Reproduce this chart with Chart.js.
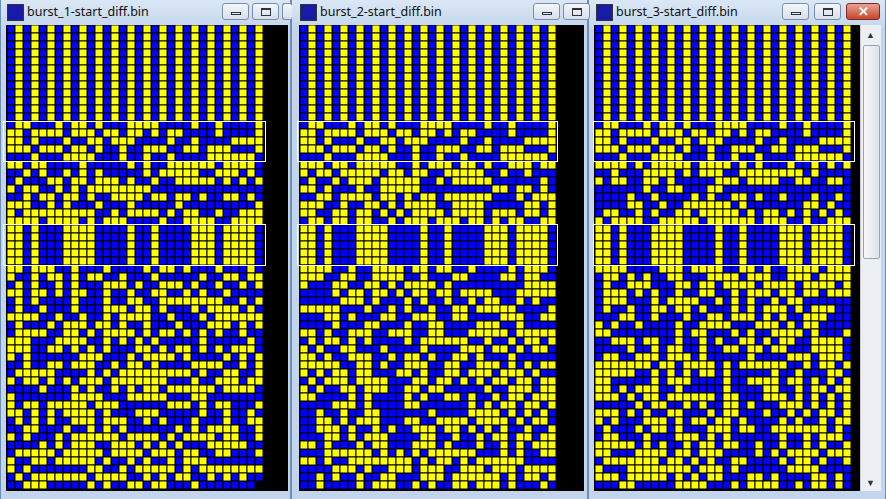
<!DOCTYPE html>
<html><head><meta charset="utf-8">
<script src="https://cdn.jsdelivr.net/npm/chart.js@4.4.0/dist/chart.umd.min.js"></script>
<style>
body{margin:0;width:886px;height:499px;overflow:hidden;background:#c4d6ec;font-family:"Noto Sans",sans-serif;position:relative}
.win{position:absolute;top:0;height:499px;background:linear-gradient(#dbe7f5,#c3d5ec 30px,#c3d5ec);border-left:1px solid #6e8db3;border-right:1px solid #6e8db3;box-sizing:border-box}
.title{position:absolute;top:3px;font-size:12.5px;color:#111}
.icon{position:absolute;top:4px;width:15px;height:15px;background:#1a1aa8;border:1px solid #333}
.btn{position:absolute;top:3px;width:27px;height:17px;border:1px solid #7a8ea8;border-radius:3px;background:linear-gradient(#f4f7fb,#d5dfec);box-sizing:border-box}
.btn.min::after{content:"";position:absolute;left:8px;top:8px;width:10px;height:3px;border:1px solid #333;box-sizing:border-box}
.btn.max::after{content:"";position:absolute;left:8px;top:4px;width:10px;height:8px;border:1px solid #333;border-top-width:2px;box-sizing:border-box}
.btn.close{width:34px;background:linear-gradient(#e8a293,#c8442c);border-color:#7a2b20;color:#fff;font-weight:bold;text-align:center;font-size:13px;line-height:15px}
.black{position:absolute;top:25px;height:466px;background:#000}
.hl{position:absolute;border:1px solid #fff;box-sizing:border-box}
canvas{position:absolute}
</style></head><body>
<div class="win" style="left:0;width:291px"></div>
<div class="win" style="left:291px;width:297px"></div>
<div class="win" style="left:588px;width:298px"></div>
<div class="icon" style="left:7px"></div><div class="title" style="left:27px">burst_1-start_diff.bin</div>
<div class="btn min" style="left:222px"></div><div class="btn max" style="left:252px"></div><div class="btn" style="left:282px;width:10px;border-right:none"></div>
<div class="icon" style="left:300px"></div><div class="title" style="left:320px">burst_2-start_diff.bin</div>
<div class="btn min" style="left:533px"></div><div class="btn max" style="left:563px"></div>
<div class="icon" style="left:596px"></div><div class="title" style="left:616px">burst_3-start_diff.bin</div>
<div class="btn min" style="left:782px"></div><div class="btn max" style="left:814px"></div><div class="btn close" style="left:846px">✕</div>
<div class="black" style="left:6px;width:282px"></div>
<div class="black" style="left:299px;width:285px"></div>
<div class="black" style="left:594px;width:266px"></div>
<div style="position:absolute;left:860px;top:25px;width:20px;height:466px;background:#eceff3;border-left:1px solid #ccc"></div>
<div style="position:absolute;left:863px;top:45px;width:15px;height:212px;background:linear-gradient(90deg,#f6f8fb,#dde3ea);border:1px solid #9aa5b3;border-radius:2px"></div>
<div style="position:absolute;left:866px;top:28px;font-size:9px;color:#333">▲</div>
<div style="position:absolute;left:866px;top:476px;font-size:9px;color:#333">▼</div>
<canvas id="c1" style="left:7px;top:25px"></canvas>
<canvas id="c2" style="left:300px;top:25px"></canvas>
<canvas id="c3" style="left:595px;top:25px"></canvas>
<div class="hl" style="left:3px;top:121px;width:263px;height:41px"></div>
<div class="hl" style="left:3px;top:224px;width:263px;height:42px"></div>
<div class="hl" style="left:297px;top:121px;width:261px;height:41px"></div>
<div class="hl" style="left:297px;top:224px;width:261px;height:42px"></div>
<div class="hl" style="left:593px;top:121px;width:262px;height:41px"></div>
<div class="hl" style="left:593px;top:224px;width:262px;height:42px"></div>
<script>
const STRIPE = "01010101010101010101010101010101";
const BOX1 = [
"01100010110100011110000100100001",
"11011110111011011010110000100001",
"11010001001101110000100100001111",
"11101110110100100111001101110001",
"00010001111000100100100001111110"];
const BOX2 = "11010001111000010010000111011110";
const P1_MID = [
"11011000010000010100111111011110",
"00101001010100000101111100111010",
"01000110110111010010011111010101",
"10110010101111111100000000000000",
"00101101101001111011011010011010",
"11100101000100010000010000000001",
"10111111111001011110101100100111",
"11110111101011100001001111001111"];
const P1_LOW = [
"11011100100010000101101000100010","10010110101100100010000010011011",
"01010010100011101001110100100101","11011010110010010011001010010000",
"01010000100010011001111111100101","01001000100011101101000101111010",
"11110010010010111100100010111111","01000101110110100100010001110101",
"01111001101011110101101010100100","11100011110010101010000010000010",
"11100110101010001101011010101110","10100000011100010111101000010101",
"00100110111001011010000111100101","01111100001010111111111010011001",
"10110101011101111111000100111011","00001000101001010110111111011110",
"10000000111100011111000110000000","10110111110111000000111010110001",
"11010101111010001110000010010010","01010100111011100101000100010011",
"00110001001010100000010101111001","10100010111111011110101111011001",
"00001010111001110101010001111100","01111101111101111011101100110001",
"10011011111010010100101110000000","10100000001100101111101011111111",
"01011111110111100101011001010100","0011100000101001101100010000000"];
const P2_MID = [
"11101101111100101110110100111011","10110111110110110011111001001000",
"01001011101111100101111100000010","11010001001111100000000011011010",
"00110111101101011011111100010111","11100100110101111001111000001101",
"11001101101010111101111011101101","01101101100101110111011010110011"];
const P2_LOW = [
"11110010011110110110010000101110","11100110011110010001100001101100",
"10001100110101111010000000001111","00001011011010110110111100011111",
"00000111010001010010010110010100","11111000100101001001101111100001",
"00011010001100111001100001110011","00001000110001001100001110010000",
"11010011100111001100011111011111","01011010100001011111100100101101",
"10100110001000010000111011010110","11010011100101101001101000100000",
"11111001101001110011001110101011","10101101100011010011011101110100",
"01011101111000110110101011011011","10100110111001101100000100111011",
"11000010100001010011010010110111","00001110100001100000010101101101",
"00100100110000001000011110101010","00110101110001100111101111010110",
"00111010010100111011010101001001","00011010111000011001001011011011",
"11010001011000111010001001010111","00011111101010101111110001010011",
"11010011111111010110101111110000","00001110100111011100111011101111",
"00101001001100011101111110101101","00100001011100101001101110100010"];
const P3_MID = [
"11110101111101111010100010010101","00100011110101110011111111010000",
"10110011010000011101111001100110","00000010011000110000000000000000",
"00001001000010100110100100010010","00001100100111111010000000110100",
"01100101001101111101011010101010","10111100111110111111011100100111"];
const P3_LOW = [
"11110000111011110011010011110111","01101010011000111101110011101111",
"01001110001101101111011110111101","01110101001001100101110110110111",
"01110001011110010101001011000000","01001001101101000101011101011100",
"00011001000100110111010100111000","10100100001001111000111010110000",
"11000000001011000101001111010001","00111011001001010011010110011110",
"00001001011001001101101100011110","01100111011101000001000011101110",
"11111110110111101011111100101101","11111001010101101000001001000110",
"11000001011100001001111011010101","11010111001000001000011001011011",
"11101011011111101100011101010101","00000101100101001101000111010101",
"11101010011000101100010010101101","10100011101011011010000101001011",
"01000101101000111011001111111010","01100010001110101000000100101110",
"11111010100101101100100100101001","11000111101101110000101011110111",
"01111111011010100110000101101001","10001111111101110100000011110000",
"11101111101010110001101000011010","00011000001111000101111001011010"];

function rows(mid, low){
  const r=[];
  for(let i=0;i<12;i++) r.push(STRIPE);
  r.push(...BOX1); r.push(...mid);
  for(let i=0;i<5;i++) r.push(BOX2);
  r.push(...low);
  return r;
}
function draw(id, data){
  const yel=[], blu=[];
  data.forEach((s,y)=>{ for(let x=0;x<s.length;x++){ (s[x]==='1'?yel:blu).push({x,y}); } });
  const ds=(d,c)=>({data:d,backgroundColor:c,borderColor:'#000',borderWidth:1,pointStyle:'rect',pointRadius:5.657,pointHoverRadius:5.657,clip:false});
  const cv=document.getElementById(id); cv.width=256; cv.height=464;
  new Chart(cv,{type:'scatter',data:{datasets:[ds(yel,'#ffff00'),ds(blu,'#0000ff')]},
    options:{responsive:false,devicePixelRatio:1,animation:false,layout:{padding:0,autoPadding:false},
      plugins:{legend:{display:false},tooltip:{enabled:false}},events:[],
      scales:{x:{display:false,min:-0.5,max:31.5},y:{display:false,min:-0.5,max:57.5,reverse:true}}}});
}
draw('c1',rows(P1_MID,P1_LOW));
draw('c2',rows(P2_MID,P2_LOW));
draw('c3',rows(P3_MID,P3_LOW));
</script></body></html>
